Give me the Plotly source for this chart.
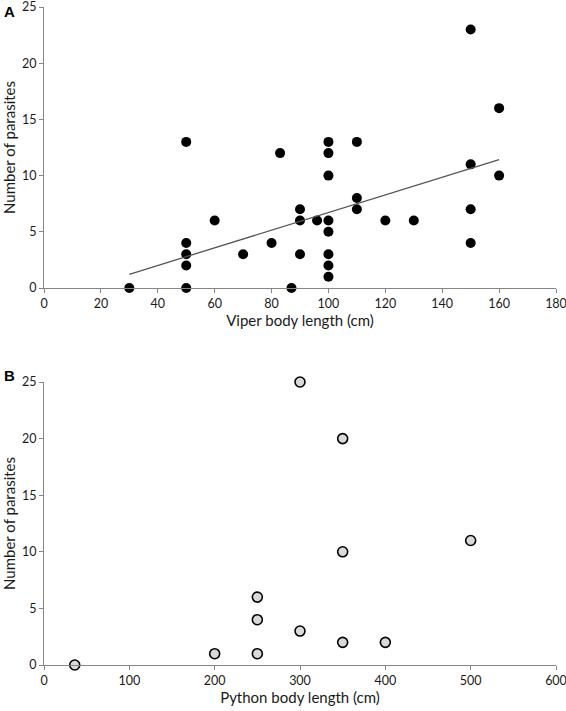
import plotly.graph_objects as go
from plotly.subplots import make_subplots

# Panel A: viper
viper_length = [30, 50, 50, 50, 50, 50, 60, 70, 80, 83, 87, 90, 90, 90, 96,
                100, 100, 100, 100, 100, 100, 100, 100, 110, 110, 110, 120, 130,
                150, 150, 150, 150, 160, 160]
viper_parasites = [0, 13, 4, 3, 2, 0, 6, 3, 4, 12, 0, 7, 6, 3, 6,
                   13, 12, 10, 6, 5, 3, 2, 1, 13, 8, 7, 6, 6,
                   23, 11, 7, 4, 16, 10]
# linear trend line as drawn in the figure
trend_x = [30, 160]
trend_y = [1.22, 11.42]

# Panel B: python
python_length = [36, 200, 250, 250, 250, 300, 300, 350, 350, 350, 400, 500]
python_parasites = [0, 1, 6, 4, 1, 25, 3, 20, 10, 2, 2, 11]

x_ticks_a = [0, 20, 40, 60, 80, 100, 120, 140, 160, 180]
x_ticks_b = [0, 100, 200, 300, 400, 500, 600]
y_ticks = [0, 5, 10, 15, 20, 25]

FONT = "Lato"
AXIS_COLOR = "#868686"
TEXT = "#1a1a1a"

ML, MR, MT, MB = 44, 10, 7, 46
W, H = 566, 711
PW, PH = W - ML - MR, H - MT - MB

fig = make_subplots(rows=2, cols=1)

fig.add_trace(go.Scatter(x=viper_length, y=viper_parasites, mode="markers",
                         marker=dict(size=10, color="black"), showlegend=False),
              row=1, col=1)
fig.add_trace(go.Scatter(x=trend_x, y=trend_y, mode="lines",
                         line=dict(color="#555555", width=1.3), showlegend=False),
              row=1, col=1)
fig.add_trace(go.Scatter(x=python_length, y=python_parasites, mode="markers",
                         marker=dict(size=10, color="#d9d9d9",
                                     line=dict(color="black", width=1.6)),
                         showlegend=False),
              row=2, col=1)
fig.update_traces(cliponaxis=False)

axis_common = dict(showline=True, linecolor=AXIS_COLOR, linewidth=1.2,
                   ticks="outside", ticklen=4, tickcolor=AXIS_COLOR, tickwidth=1,
                   showgrid=False, zeroline=False, automargin=False,
                   ticklabeloverflow="allow",
                   tickfont=dict(family=FONT, size=12.5, color=TEXT))

fig.update_xaxes(**axis_common)
fig.update_yaxes(**axis_common)


def ydom(top_px, bottom_px):
    return [1 - (bottom_px - MT) / PH, 1 - (top_px - MT) / PH]


title_font = dict(family=FONT, size=15, color=TEXT)
fig.update_xaxes(range=[0, 180], tickvals=x_ticks_a,
                 title=dict(text="Viper body length (cm)", standoff=0, font=title_font),
                 row=1, col=1)
fig.update_xaxes(range=[0, 600], tickvals=x_ticks_b,
                 title=dict(text="Python body length (cm)", standoff=0, font=title_font),
                 row=2, col=1)
for r, dom in ((1, ydom(7, 288)), (2, ydom(382, 665))):
    fig.update_yaxes(range=[0, 25], tickvals=y_ticks, domain=dom,
                     title=dict(text="Number of parasites", standoff=4, font=title_font),
                     row=r, col=1)

fig.update_layout(
    width=W, height=H,
    margin=dict(l=ML, r=MR, t=MT, b=MB, autoexpand=False),
    paper_bgcolor="white", plot_bgcolor="white",
    font=dict(family=FONT, color=TEXT),
)


def px_to_paper(px, py):
    return (px - ML) / PW, 1 - (py - MT) / PH


for label, (px, py) in (("A", (9, 12)), ("B", (9, 375))):
    x_, y_ = px_to_paper(px, py)
    fig.add_annotation(text=f"<b>{label}</b>", x=x_, y=y_, xref="paper", yref="paper",
                       showarrow=False, xanchor="center", yanchor="middle",
                       font=dict(family="Liberation Sans", size=15, color="black"))

fig.write_html("out.html", config={"displayModeBar": False},
               post_script="document.body.style.margin='0';document.body.style.overflow='hidden';")
